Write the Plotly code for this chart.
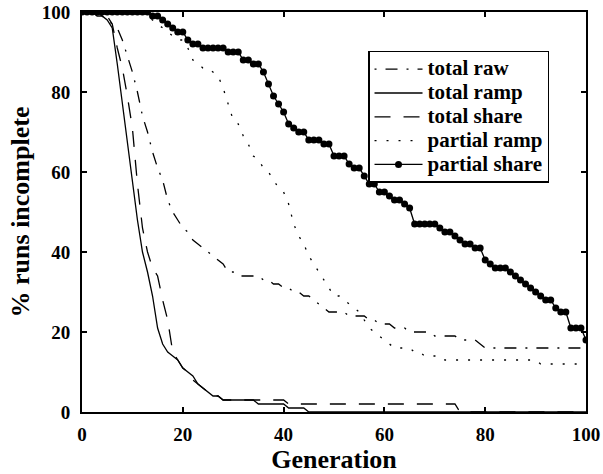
"""Percentage of runs still incomplete per generation, five strategies."""

import plotly.graph_objects as go

_FONT = "Liberation Serif, Times New Roman, serif"
_INK = "black"

generation = list(range(101))

total_raw = [
    100, 100, 100, 100, 99, 98, 97, 96, 93, 89,
    85, 80, 74, 70, 65, 61, 58, 53, 50, 48,
    46, 45, 43, 42, 41, 40, 39, 38, 37, 35,
    35, 34, 34, 34, 34, 34, 33, 33, 32, 32,
    31, 31, 30, 30, 29, 29, 28, 27, 26, 25,
    25, 25, 25, 24, 24, 24, 24, 23, 23, 22,
    22, 22, 21, 21, 21, 20, 20, 20, 20, 20,
    19, 19, 19, 19, 19, 18, 18, 18, 18, 17,
    16, 16, 16, 16, 16, 16, 16, 16, 16, 16,
    16, 16, 16, 16, 16, 16, 16, 16, 16, 16,
    16,
]

total_ramp = [
    100, 100, 100, 99, 99, 98, 96, 87, 77, 67,
    57, 48, 40, 35, 29, 21, 17, 15, 14, 13,
    11, 10, 9, 7, 6, 5, 4, 4, 3, 3,
    3, 3, 3, 3, 3, 2, 2, 2, 2, 2,
    2, 1, 1, 1, 1, 0, 0, 0, 0, 0,
    0, 0, 0, 0, 0, 0, 0, 0, 0, 0,
    0, 0, 0, 0, 0, 0, 0, 0, 0, 0,
    0, 0, 0, 0, 0, 0, 0, 0, 0, 0,
    0, 0, 0, 0, 0, 0, 0, 0, 0, 0,
    0, 0, 0, 0, 0, 0, 0, 0, 0, 0,
    0,
]

total_share = [
    100, 100, 100, 100, 100, 99, 97, 91, 86, 79,
    71, 57, 46, 40, 36, 34, 28, 23, 15, 13,
    11, 10, 8, 7, 6, 5, 4, 4, 3, 3,
    3, 3, 3, 3, 3, 3, 3, 3, 3, 3,
    3, 2, 2, 2, 2, 2, 2, 2, 2, 2,
    2, 2, 2, 2, 2, 2, 2, 2, 2, 2,
    2, 2, 2, 2, 2, 2, 2, 2, 2, 2,
    2, 2, 2, 2, 2, 0, 0, 0, 0, 0,
    0, 0, 0, 0, 0, 0, 0, 0, 0, 0,
    0, 0, 0, 0, 0, 0, 0, 0, 0, 0,
    0,
]

partial_ramp = [
    100, 100, 100, 100, 100, 100, 100, 100, 100, 100,
    100, 100, 100, 99, 98, 97, 96, 95, 94, 93,
    93, 91, 88, 87, 86, 86, 85, 84, 81, 77,
    73, 72, 69, 67, 64, 63, 61, 60, 58, 56,
    55, 52, 47, 44, 42, 39, 37, 35, 33, 31,
    29, 29, 28, 27, 26, 25, 23, 21, 20, 19,
    18, 17, 16, 16, 16, 16, 15, 15, 14, 14,
    14, 14, 13, 13, 13, 13, 13, 13, 13, 13,
    13, 13, 13, 13, 13, 13, 13, 13, 13, 13,
    13, 12, 12, 12, 12, 12, 12, 12, 12, 12,
    12,
]

partial_share = [
    100, 100, 100, 100, 100, 100, 100, 100, 100, 100,
    100, 100, 100, 100, 99, 99, 98, 97, 96, 95,
    95, 93, 92, 92, 91, 91, 91, 91, 91, 90,
    90, 90, 88, 88, 87, 87, 85, 82, 79, 77,
    75, 72, 71, 70, 70, 68, 68, 68, 67, 67,
    64, 64, 64, 62, 61, 61, 59, 57, 57, 55,
    55, 54, 53, 53, 52, 51, 47, 47, 47, 47,
    47, 46, 45, 45, 44, 43, 42, 42, 41, 41,
    38, 37, 36, 36, 36, 35, 34, 33, 32, 31,
    30, 29, 28, 28, 26, 25, 25, 21, 21, 21,
    18,
]

tick_values = [0, 20, 40, 60, 80, 100]

for series in (total_raw, total_ramp, total_share, partial_ramp, partial_share):
    assert len(series) == len(generation), len(series)


def _label(text: str) -> str:
    # legend rows are spaced by the legend font size; the visible text is larger
    return f"<span style='font-size:21px'>{text}</span>"


fig = go.Figure()

traces = [
    ("total raw", total_raw, "2px,9px,12px,9px", None),
    ("total ramp", total_ramp, "solid", None),
    ("total share", total_share, "16px,13px", None),
    ("partial ramp", partial_ramp, "2px,10px", None),
    ("partial share", partial_share, "solid", 7),
]

for name, values, dash, marker_size in traces:
    fig.add_trace(
        go.Scatter(
            x=generation,
            y=values,
            name=_label(name),
            mode="lines+markers" if marker_size else "lines",
            line={"color": _INK, "width": 1.3, "dash": dash},
            marker={"color": _INK, "size": marker_size or 1},
        )
    )

_axis = dict(
    range=[0, 100],
    tickvals=tick_values,
    ticks="inside",
    ticklen=5,
    tickwidth=1.5,
    tickcolor=_INK,
    showline=True,
    linewidth=2,
    linecolor=_INK,
    mirror="ticks",
    showgrid=False,
    zeroline=False,
    automargin=False,
    ticklabeloverflow="allow",
    tickfont={"family": _FONT, "size": 19, "color": _INK, "weight": "bold"},
)

fig.update_layout(
    width=603,
    height=474,
    paper_bgcolor="white",
    plot_bgcolor="white",
    margin={"l": 82, "r": 17, "t": 12, "b": 62},
    font={"family": _FONT, "color": _INK, "weight": "bold"},
    xaxis={
        **_axis,
        "ticklabelstandoff": 4,
        "title": {
            "text": "Generation",
            "font": {"family": _FONT, "size": 26, "color": _INK, "weight": "bold"},
            "standoff": 19,
        },
    },
    yaxis={
        **_axis,
        "ticklabelstandoff": 6,
        "title": {
            "text": "% runs incomplete",
            "font": {"family": _FONT, "size": 26, "color": _INK, "weight": "bold"},
            "standoff": 5,
        },
    },
    legend={
        "x": 0.5675,
        "y": 0.903,
        "xanchor": "left",
        "yanchor": "top",
        "bgcolor": "white",
        "bordercolor": _INK,
        "borderwidth": 1.5,
        "itemwidth": 48,
        "font": {"family": _FONT, "size": 16, "color": _INK, "weight": "bold"},
    },
    showlegend=True,
)

# drop the default body margin so the figure sits at the page's top-left corner
fig.write_html(
    "out.html",
    config={"displayModeBar": False},
    post_script="document.body.style.margin = '0';",
)
